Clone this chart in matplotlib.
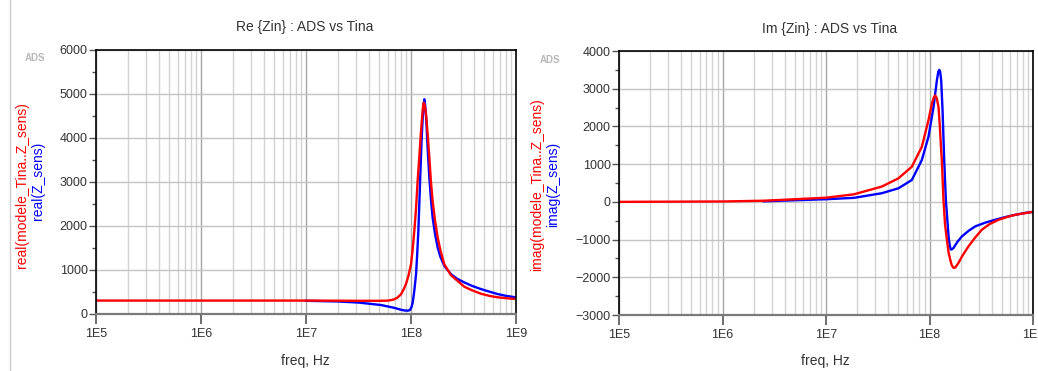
import matplotlib
matplotlib.use("Agg")
from matplotlib import pyplot as plt
from matplotlib.lines import Line2D
from matplotlib.ticker import FixedLocator, FuncFormatter, MultipleLocator
import numpy as np

plt.rcParams['font.family'] = ['Liberation Sans', 'DejaVu Sans']

# Re{Zin} - modele Tina (rouge)
re_tina_f = [1e5, 1e6, 1e7, 3.16e7, 5.18e7, 6.03e7, 6.61e7, 6.92e7, 7.41e7, 8.04e7,
             8.51e7, 8.95e7, 9.44e7, 1.0e8, 1.035e8, 1.076e8, 1.117e8, 1.156e8, 1.202e8, 1.245e8,
             1.294e8, 1.318e8, 1.343e8, 1.39e8, 1.445e8, 1.496e8, 1.549e8, 1.607e8, 1.698e8, 1.795e8,
             1.905e8, 2.075e8, 2.239e8, 2.404e8, 2.754e8, 3.221e8, 3.802e8, 4.645e8, 5.623e8, 6.683e8,
             7.943e8, 1e9]
re_tina = [305, 305, 305, 300, 300, 305, 320, 335, 370, 450,
           560, 680, 860, 1130, 1450, 1890, 2400, 3020, 3600, 4150,
           4650, 4800, 4770, 4550, 4050, 3550, 3000, 2570, 2100, 1740,
           1450, 1130, 1000, 880, 760, 620, 540, 460, 410, 380,
           360, 340]

# Re{Zin} - ADS (bleu)
re_ads_f = [1e7, 2.0e7, 3.16e7, 5.18e7, 6.92e7, 7.94e7, 8.65e7, 9.33e7, 9.77e7, 1.012e8,
            1.038e8, 1.072e8, 1.117e8, 1.148e8, 1.175e8, 1.202e8, 1.227e8, 1.259e8, 1.282e8, 1.312e8,
            1.340e8, 1.365e8, 1.400e8, 1.445e8, 1.496e8, 1.549e8, 1.607e8, 1.698e8, 1.795e8, 1.905e8,
            2.075e8, 2.404e8, 2.754e8, 3.221e8, 3.802e8, 4.645e8, 5.623e8, 6.683e8, 7.943e8, 1e9]
re_ads = [300, 285, 260, 204, 140, 100, 80, 75, 90, 160,
          260, 500, 905, 1400, 1890, 2550, 3170, 3900, 4300, 4700,
          4880, 4750, 4380, 3700, 3090, 2600, 2190, 1800, 1510, 1300,
          1094, 905, 800, 717, 640, 566, 505, 453, 415, 377]

# Im{Zin} - modele Tina (rouge)
im_tina_f = [1e5, 1e6, 2.51e6, 1e7, 1.86e7, 3.46e7, 5.01e7, 6.75e7, 8.43e7, 9.77e7,
             1.054e8, 1.084e8, 1.096e8, 1.135e8, 1.175e8, 1.222e8, 1.259e8, 1.288e8, 1.315e8, 1.365e8,
             1.413e8, 1.472e8, 1.531e8, 1.585e8, 1.641e8, 1.706e8, 1.778e8, 1.905e8, 2.089e8, 2.382e8,
             2.754e8, 3.206e8, 3.802e8, 4.656e8, 5.623e8, 6.745e8, 8.318e8, 1e9]
im_tina = [0, 10, 30, 110, 200, 405, 624, 932, 1460, 2164,
           2603, 2710, 2760, 2823, 2750, 2515, 2000, 1500, 1108, 53,
           -600, -1000, -1350, -1530, -1680, -1750, -1740, -1618, -1420, -1178,
           -950, -739, -590, -475, -400, -343, -300, -265]

# Im{Zin} - ADS (bleu)
im_ads_f = [2.51e6, 1e7, 1.86e7, 3.46e7, 5.01e7, 6.75e7, 8.43e7, 9.77e7, 1.094e8, 1.178e8,
            1.216e8, 1.242e8, 1.268e8, 1.297e8, 1.337e8, 1.387e8, 1.439e8, 1.528e8, 1.567e8, 1.607e8,
            1.660e8, 1.706e8, 1.862e8, 2.056e8, 2.382e8, 2.767e8, 3.467e8, 4.315e8, 5.370e8, 6.745e8,
            8.318e8, 1e9]
im_ads = [15, 70, 106, 229, 360, 580, 1108, 1724, 2515, 3219,
          3450, 3500, 3450, 3220, 2430, 1108, 53, -915, -1150, -1266,
          -1250, -1222, -1060, -915, -770, -650, -550, -475, -405, -343,
          -295, -265]

decades = [1e5, 1e6, 1e7, 1e8, 1e9]

W, H = 1038, 371
fig = plt.figure(figsize=(W / 100, H / 100), dpi=100, facecolor='white')


def px(x0, y0, x1, y1):
    return [x0 / W, 1 - y1 / H, (x1 - x0) / W, (y1 - y0) / H]


def style_axes(ax, ymin, ymax):
    ax.set_xscale('log')
    ax.set_xlim(1e5, 1e9)
    ax.set_ylim(ymin, ymax)
    ax.xaxis.set_major_locator(FixedLocator(decades))
    ax.xaxis.set_major_formatter(FuncFormatter(lambda v, _: "1E%d" % int(round(np.log10(v)))))
    minors = [m * d for d in decades[:-1] for m in range(2, 10)]
    ax.xaxis.set_minor_locator(FixedLocator(minors))
    ax.yaxis.set_major_locator(MultipleLocator(1000))
    ax.yaxis.set_minor_locator(MultipleLocator(500))
    ax.grid(which='major', axis='x', color='#a6a6a6', lw=1.0)
    ax.grid(which='minor', axis='x', color='#d2d2d2', lw=1.0)
    ax.grid(which='major', axis='y', color='#c4c4c4', lw=1.0)
    ax.set_axisbelow(True)
    ax.tick_params(axis='x', which='major', length=7, width=1.2, color='#555555',
                   labelsize=9, labelcolor='#333333', pad=3)
    ax.tick_params(axis='x', which='minor', length=0)
    ax.tick_params(axis='y', which='major', length=5, width=1, color='#555555',
                   labelsize=9, labelcolor='#333333', pad=1)
    ax.tick_params(axis='y', which='minor', length=3, width=1, color='#555555')
    for s in ['left', 'top', 'right']:
        ax.spines[s].set_color('black')
        ax.spines[s].set_linewidth(1.2)
    ax.spines['bottom'].set_color('#7a7a7a')
    ax.spines['bottom'].set_linewidth(1.6)


ax1 = fig.add_axes(px(96, 50, 516, 314))
style_axes(ax1, 0, 6000)
ax1.plot(re_ads_f, re_ads, color='#0000ff', lw=1.7)
ax1.plot(re_tina_f, re_tina, color='#ff0000', lw=1.7)

ax2 = fig.add_axes(px(619, 51, 1033, 315))
style_axes(ax2, -3000, 4000)
ax2.plot(im_ads_f, im_ads, color='#0000ff', lw=1.7)
ax2.plot(im_tina_f, im_tina, color='#ff0000', lw=1.7)

# titres et labels
fig.text(305 / W, 1 - 27 / H, "Re {Zin} : ADS vs Tina", ha='center', va='center', fontsize=10, color='#333333')
fig.text(830 / W, 1 - 29 / H, "Im {Zin} : ADS vs Tina", ha='center', va='center', fontsize=10, color='#333333')
fig.text(305 / W, 1 - 361 / H, "freq, Hz", ha='center', va='center', fontsize=10, color='#333333')
fig.text(825 / W, 1 - 361 / H, "freq, Hz", ha='center', va='center', fontsize=10, color='#333333')

fig.text(22 / W, 1 - 185 / H, "real(modele_Tina..Z_sens)", rotation=90, ha='center', va='center',
         fontsize=10, color='#ff0000')
fig.text(38 / W, 1 - 181 / H, "real(Z_sens)", rotation=90, ha='center', va='center',
         fontsize=10, color='#0000ff')
fig.text(537 / W, 1 - 185 / H, "imag(modele_Tina..Z_sens)", rotation=90, ha='center', va='center',
         fontsize=10, color='#ff0000')
fig.text(553 / W, 1 - 184 / H, "imag(Z_sens)", rotation=90, ha='center', va='center',
         fontsize=10, color='#0000ff')

fig.text(35 / W, 1 - 58 / H, "ADS", ha='center', va='center', fontsize=7, fontweight='bold', color='#b8b8b8')
fig.text(550 / W, 1 - 60 / H, "ADS", ha='center', va='center', fontsize=7, fontweight='bold', color='#b8b8b8')

fig.add_artist(Line2D([10 / W, 10 / W], [0, 1], color='#cccccc', lw=1))

fig.savefig("out.png", dpi=100, facecolor='white')
